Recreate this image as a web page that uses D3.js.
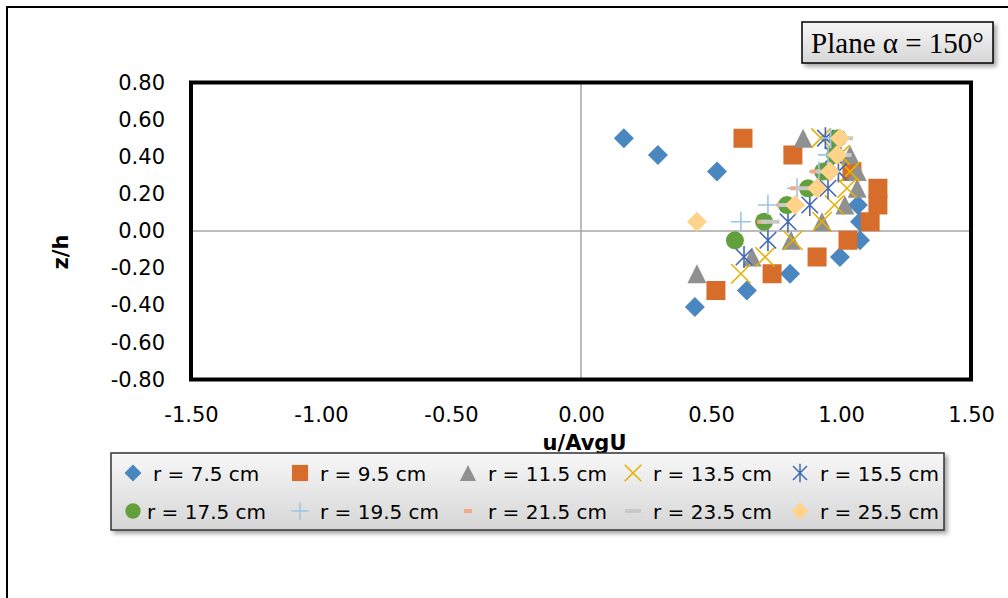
<!DOCTYPE html>
<html>
<head>
<meta charset="utf-8">
<script src="https://cdn.jsdelivr.net/npm/d3@7"></script>
<style>
  html, body { margin: 0; padding: 0; background: #fff; }
  svg { display: block; }
</style>
</head>
<body>
<svg id="chart" width="1008" height="598"></svg>
<script>
// Velocity profiles on plane alpha = 150 deg: z/h against u/AvgU for ten radii.
const seriesNames = ["r = 7.5 cm", "r = 9.5 cm", "r = 11.5 cm", "r = 13.5 cm", "r = 15.5 cm",
                     "r = 17.5 cm", "r = 19.5 cm", "r = 21.5 cm", "r = 23.5 cm", "r = 25.5 cm"];

const xTicks = [-1.5, -1.0, -0.5, 0.0, 0.5, 1.0, 1.5];
const yTicks = [0.8, 0.6, 0.4, 0.2, 0.0, -0.2, -0.4, -0.6, -0.8];

// each series: u/AvgU values (x) and z/h values (z)
const r75x  = [0.165, 0.296, 0.523, 1.065, 1.073, 1.073, 0.996, 0.804, 0.638, 0.438];
const r75z  = [0.50, 0.41, 0.32, 0.14, 0.05, -0.05, -0.14, -0.23, -0.32, -0.41];
const r95x  = [0.623, 0.815, 1.042, 1.142, 1.142, 1.112, 1.027, 0.908, 0.735, 0.519];
const r95z  = [0.50, 0.41, 0.32, 0.23, 0.14, 0.05, -0.05, -0.14, -0.23, -0.32];
const r115x = [0.854, 1.035, 1.062, 1.062, 1.015, 0.927, 0.808, 0.658, 0.446];
const r115z = [0.50, 0.41, 0.32, 0.23, 0.14, 0.05, -0.05, -0.14, -0.23];
const r135x = [0.923, 0.996, 1.035, 1.023, 0.975, 0.927, 0.815, 0.708, 0.615];
const r135z = [0.50, 0.41, 0.32, 0.23, 0.14, 0.05, -0.05, -0.14, -0.23];
const r155x = [0.94, 0.97, 0.99, 0.95, 0.88, 0.796, 0.719, 0.627];
const r155z = [0.50, 0.41, 0.32, 0.23, 0.14, 0.05, -0.05, -0.14];
const r175x = [0.988, 0.977, 0.931, 0.873, 0.792, 0.704, 0.592];
const r175z = [0.50, 0.41, 0.32, 0.23, 0.14, 0.05, -0.05];
const r195x = [0.96, 0.95, 0.915, 0.831, 0.719, 0.615];
const r195z = [0.50, 0.41, 0.32, 0.23, 0.14, 0.05];
const r215x = [0.973, 0.90, 0.823, 0.77, 0.696];
const r215z = [0.41, 0.32, 0.23, 0.14, 0.05];
const r235x = [1.01, 1.004, 0.942, 0.862, 0.796, 0.727];
const r235z = [0.50, 0.41, 0.32, 0.23, 0.14, 0.05];
const r255x = [0.996, 0.985, 0.958, 0.908, 0.823, 0.446];
const r255z = [0.50, 0.41, 0.32, 0.23, 0.14, 0.05];

const seriesX = [r75x, r95x, r115x, r135x, r155x, r175x, r195x, r215x, r235x, r255x];
const seriesZ = [r75z, r95z, r115z, r135z, r155z, r175z, r195z, r215z, r235z, r255z];

// marker shapes (size = full width squared)
const half = s => Math.sqrt(s) / 2;
const shapes = {
  diamond: { draw(c, s) { const r = half(s); c.moveTo(0, -r); c.lineTo(r, 0); c.lineTo(0, r); c.lineTo(-r, 0); c.closePath(); } },
  square:  { draw(c, s) { const r = half(s); c.rect(-r, -r, 2 * r, 2 * r); } },
  triangle:{ draw(c, s) { const r = half(s); c.moveTo(0, -r); c.lineTo(r, r); c.lineTo(-r, r); c.closePath(); } },
  cross:   { draw(c, s) { const r = half(s) * 0.75; c.moveTo(-r, -r); c.lineTo(r, r); c.moveTo(r, -r); c.lineTo(-r, r); } },
  star:    { draw(c, s) { const r = half(s) * 0.75; c.moveTo(-r, -r); c.lineTo(r, r); c.moveTo(r, -r); c.lineTo(-r, r);
                                   c.moveTo(0, -half(s)); c.lineTo(0, half(s)); } },
  circle:  { draw(c, s) { const r = half(s); c.moveTo(r, 0); c.arc(0, 0, r, 0, 2 * Math.PI); } },
  plus:    { draw(c, s) { const r = half(s); c.moveTo(-r, 0); c.lineTo(r, 0); c.moveTo(0, -r); c.lineTo(0, r); } },
  dashS:   { draw(c, s) { const r = half(s); c.rect(-r * 0.5, -2, r, 4); } },
  dashL:   { draw(c, s) { const r = half(s); c.rect(-r, -2, 2 * r, 4); } }
};

const styles = [
  { shape: "diamond",  fill: "#4A86BF", stroke: null,      size: 20 },
  { shape: "square",   fill: "#D66D2B", stroke: null,      size: 19 },
  { shape: "triangle", fill: "#909090", stroke: null,      size: 19 },
  { shape: "cross",    fill: "none",    stroke: "#E8B000", size: 26 },
  { shape: "star",     fill: "none",    stroke: "#4169B8", size: 22 },
  { shape: "circle",   fill: "#62A03E", stroke: null,      size: 18 },
  { shape: "plus",     fill: "none",    stroke: "#9DC3E8", size: 20 },
  { shape: "dashS",    fill: "#F2A987", stroke: null,      size: 19 },
  { shape: "dashL",    fill: "#C8C8C8", stroke: null,      size: 19 },
  { shape: "diamond",  fill: "#FFD38A", stroke: null,      size: 20 }
];

const svg = d3.select("#chart");
const defs = svg.append("defs");

const grad = defs.append("linearGradient").attr("id", "boxFill")
  .attr("x1", 0).attr("y1", 0).attr("x2", 0).attr("y2", 1);
grad.append("stop").attr("offset", "0%").attr("stop-color", "#F7F7F7");
grad.append("stop").attr("offset", "100%").attr("stop-color", "#D6D6D6");

const shadow = defs.append("filter").attr("id", "shadow")
  .attr("x", "-10%").attr("y", "-20%").attr("width", "130%").attr("height", "160%");
shadow.append("feDropShadow").attr("dx", 3).attr("dy", 3).attr("stdDeviation", 2)
  .attr("flood-color", "#000").attr("flood-opacity", 0.35);

const clip = defs.append("clipPath").attr("id", "plotClip");

// outer frame
svg.append("path").attr("d", "M7,598V7H1008")
  .attr("fill", "none").attr("stroke", "#000").attr("stroke-width", 2);

const x = d3.scaleLinear().domain([-1.5, 1.5]).range([191, 971]);
const y = d3.scaleLinear().domain([-0.8, 0.8]).range([379.5, 82.5]);

clip.append("rect").attr("x", x(-1.5)).attr("y", y(0.8))
  .attr("width", x(1.5) - x(-1.5)).attr("height", y(-0.8) - y(0.8));

const font = "'DejaVu Sans', sans-serif";

// zero lines
svg.append("line").attr("x1", x(0)).attr("x2", x(0)).attr("y1", y(0.8)).attr("y2", y(-0.8))
  .attr("stroke", "#A6A6A6").attr("stroke-width", 1.5);
svg.append("line").attr("x1", x(-1.5)).attr("x2", x(1.5)).attr("y1", y(0)).attr("y2", y(0))
  .attr("stroke", "#A6A6A6").attr("stroke-width", 1.5);

// axes
const fmt = d => d.toFixed(2);
const gx = svg.append("g").attr("transform", `translate(0,${y(-0.8)})`)
  .call(d3.axisBottom(x).tickValues(xTicks).tickFormat(fmt).tickSize(0).tickPadding(28));
const gy = svg.append("g").attr("transform", `translate(${x(-1.5)},0)`)
  .call(d3.axisLeft(y).tickValues(yTicks).tickFormat(fmt).tickSize(0).tickPadding(26));
[gx, gy].forEach(g => {
  g.select(".domain").remove();
  g.selectAll("text").attr("font-family", font).attr("font-size", 21).attr("fill", "#000");
});

// data points
const plot = svg.append("g").attr("clip-path", "url(#plotClip)");
seriesX.forEach((xs, i) => {
  const st = styles[i];
  const pts = xs.map((v, j) => ({ u: v, z: seriesZ[i][j] }));
  plot.append("g").selectAll("path").data(pts).join("path")
    .attr("transform", d => `translate(${x(d.u)},${y(d.z)})`)
    .attr("d", d3.symbol().type(shapes[st.shape]).size(st.size * st.size))
    .attr("fill", st.fill)
    .attr("stroke", st.stroke || "none")
    .attr("stroke-width", st.stroke ? 1.6 : 0);
});

// plot frame
svg.append("rect").attr("x", x(-1.5)).attr("y", y(0.8))
  .attr("width", x(1.5) - x(-1.5)).attr("height", y(-0.8) - y(0.8))
  .attr("fill", "none").attr("stroke", "#000").attr("stroke-width", 4);

// axis titles
svg.append("text").attr("x", 584.5).attr("y", 449.5).attr("text-anchor", "middle")
  .attr("font-family", font).attr("font-weight", "bold").attr("font-size", 21)
  .text("u/AvgU");
svg.append("text").attr("transform", "translate(68,252) rotate(-90)").attr("text-anchor", "middle")
  .attr("font-family", font).attr("font-weight", "bold").attr("font-size", 21)
  .text("z/h");

// title box
svg.append("rect").attr("x", 802).attr("y", 22).attr("width", 191).attr("height", 41)
  .attr("fill", "url(#boxFill)").attr("stroke", "#000").attr("stroke-width", 1.5)
  .attr("filter", "url(#shadow)");
svg.append("text").attr("x", 897.5).attr("y", 53).attr("text-anchor", "middle")
  .attr("font-family", "'Liberation Serif', 'Times New Roman', serif").attr("font-size", 29)
  .text("Plane α = 150°");

// legend
const leg = svg.append("g");
leg.append("rect").attr("x", 111).attr("y", 453).attr("width", 833).attr("height", 77)
  .attr("fill", "url(#boxFill)").attr("stroke", "#333").attr("stroke-width", 1.5)
  .attr("filter", "url(#shadow)");
const colX = [133, 300, 468, 633, 800];
const rowY = [473, 511];
seriesNames.forEach((name, i) => {
  const st = styles[i];
  const cx = colX[i % 5], cy = rowY[Math.floor(i / 5)];
  leg.append("path").attr("transform", `translate(${cx},${cy})`)
    .attr("d", d3.symbol().type(shapes[st.shape]).size((st.size * 0.85) ** 2))
    .attr("fill", st.fill).attr("stroke", st.stroke || "none")
    .attr("stroke-width", st.stroke ? 1.5 : 0);
  const gap = (i === 5) ? 14 : 20;
  leg.append("text").attr("x", cx + gap).attr("y", cy + 7.5)
    .attr("font-family", font).attr("font-size", 20).attr("fill", "#000")
    .text(name);
});
</script>
</body>
</html>
